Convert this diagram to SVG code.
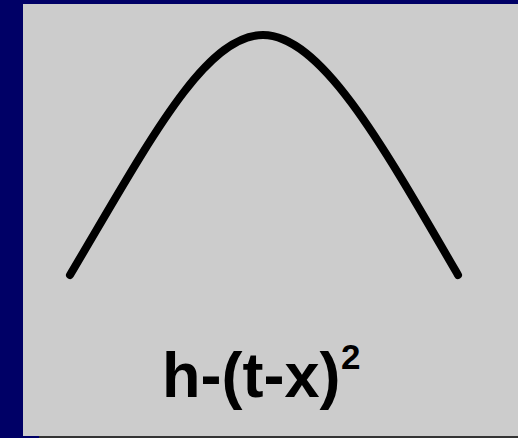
<svg xmlns="http://www.w3.org/2000/svg" width="518" height="438" viewBox="0 0 518 438">
<style>
.lbl{font-family:"Liberation Sans",Arial,sans-serif;font-weight:bold;font-size:63px;fill:#000}
.sup{font-size:35px}
</style>
<rect x="0" y="0" width="518" height="438" fill="#000066"/>
<rect x="39" y="436" width="479" height="2" fill="#333333"/>
<rect x="23" y="4" width="495" height="432" fill="#cccccc"/>
<g id="curve">
<path d="M70,275 C150,140 205,35 263,35 C320,35 380,140 458,275" fill="none" stroke="#000" stroke-width="8" stroke-linecap="round"/>
</g>
<g id="label">
<text class="lbl" x="162" y="397">h-(t-x)<tspan class="sup" x="341" y="369">2</tspan></text>
</g>
</svg>
